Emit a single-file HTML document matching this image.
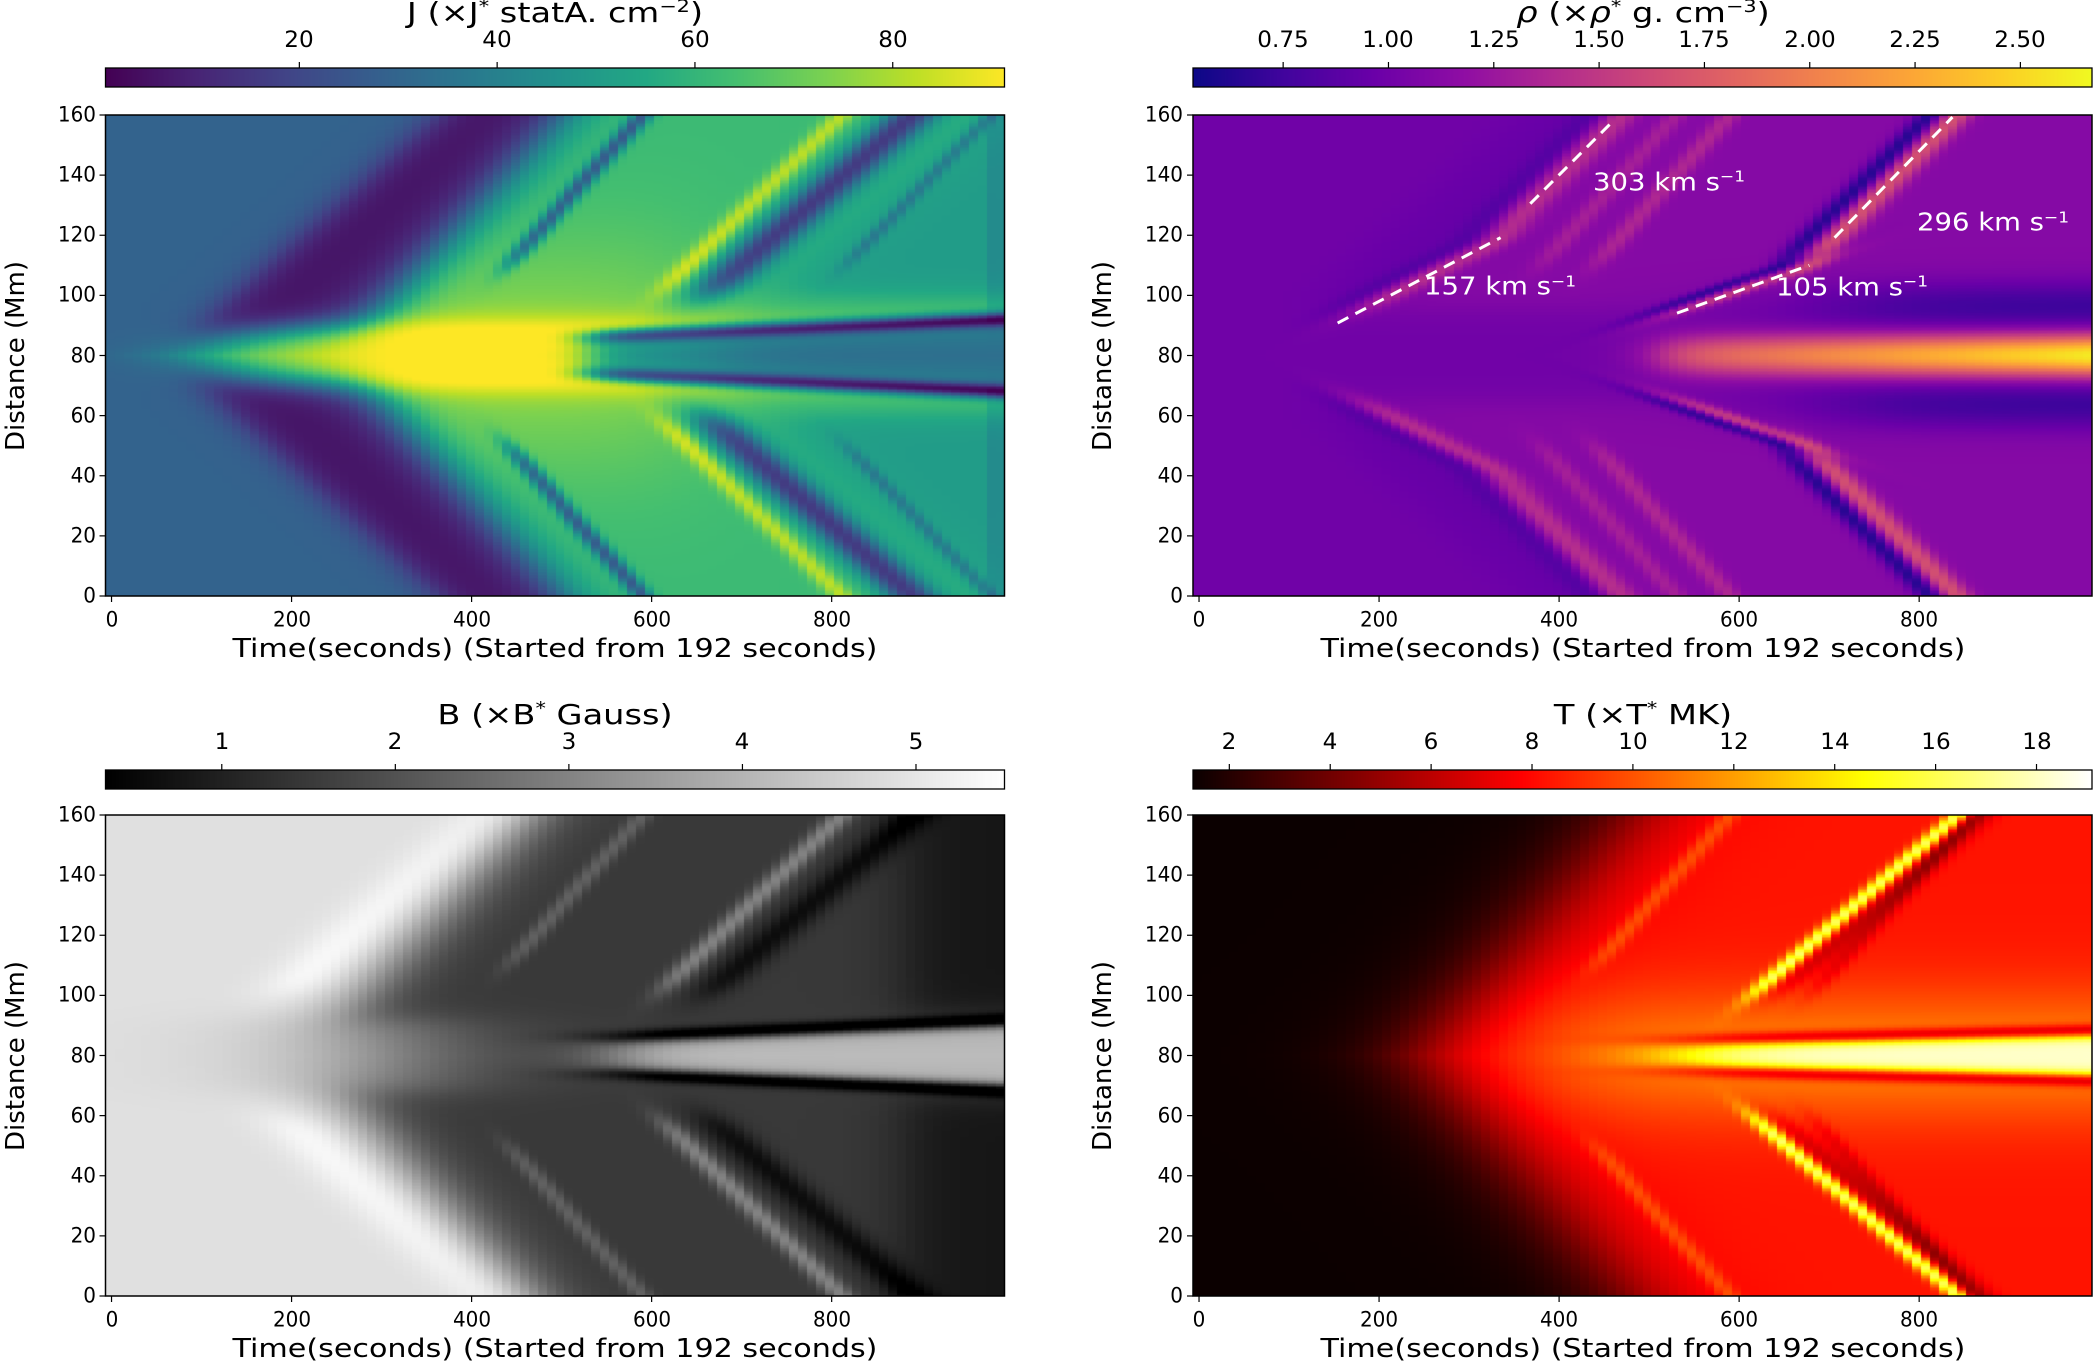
<!DOCTYPE html>
<html><head><meta charset="utf-8">
<style>
body{margin:0;background:#fff;width:2095px;height:1363px;position:relative;overflow:hidden;font-family:"DejaVu Sans","Liberation Sans",sans-serif;color:#000}
.t{position:absolute;white-space:nowrap;line-height:1}
canvas{position:absolute}
sup{font-size:62%;vertical-align:0;position:relative;top:-0.55em}
</style></head>
<body>
<div id="root"></div>
<script>
// ---------- shared axis data ----------
const timeRange=[-6.7,992];
const distRange=[0,160];
const xTicks=[0,200,400,600,800];
const yTicks=[0,20,40,60,80,100,120,140,160];
const xLabel="Time(seconds) (Started from 192 seconds)";
const yLabel="Distance (Mm)";

// ---------- J panel (viridis) ----------
const jRange=[0.4,91.3];
const jCbTicks=[20,40,60,80];
const jBase=[29];
const jSteps=[[60,3.77,15,-24,8,200],[253,3.1,20,57,8,200],[100,8,35,50,-10,10],[640,4,30,-12,20,200]];
const jRidges=[[350,3,12,-35,30,200],[539,3.4,15,20,22,200],[585,3.8,30,-45,20,200],[982,0,4,-30,14,200],[720,3.2,10,-15,30,200]];
const jGlow=[14,40,230,4,660];
const jSplit=[530,6,0.013,-60,2.5,-45];

// ---------- rho panel (plasma) ----------
const rhoRange=[0.536,2.67];
const rhoCbTicks=[0.75,1.00,1.25,1.50,1.75,2.00,2.25,2.50];
const rhoBase=[1.0];
const rhoSteps=[[60,3.77,20,-0.06,15,200],[85,6.37,20,0.18,15,38],[199,3.35,20,0.18,38,200]];
const rhoRidges=[[85,6.37,22,0.4,15,38],[199,3.35,22,0.4,38,200],[55,6.37,20,-0.15,15,38],[169,3.35,20,-0.15,38,200],
 [401,9.25,18,0.5,14,30],[578,3.3,18,0.55,30,200],[371,9.25,15,-0.45,14,30],[548,3.3,15,-0.5,30,200],[350,3,14,0.25,30,200],[290,3,14,0.2,30,200]];
const rhoCore=[510,0.7,1.6,7];
const rhoHalo=[-0.35,17,8,700,60];
const rhoLines=[[154,90.8,335,119.2],[368,130.5,457,157.1],[531,94.1,678,110],[706,119.2,837,159.3]];
const rhoLabels=[[250,103,"157"],[438,137.8,"303"],[641,102.8,"105"],[798,124.3,"296"]];

// ---------- B panel (gray) ----------
const bRange=[0.33,5.51];
const bCbTicks=[1,2,3,4,5];
const bBase=[4.88];
const bSteps=[[220,3.1,25,-3.4,12,200],[300,0,70,-3.4,-10,12],[880,0,20,-0.7,14,200]];
const bRidges=[[120,3.77,45,0.6,20,200],[350,3,12,0.8,30,200],[539,3.4,15,1.5,22,200],[585,3.8,25,-0.9,20,200]];
const bSplit=[560,6,0.013,-2.0,2.2,2.6];

// ---------- T panel (hot) ----------
const tRange=[1.28,19.1];
const tCbTicks=[2,4,6,8,10,12,14,16,18];
const tBase=[1.3];
const tSteps=[[250,2.9,40,7,-10,200]];
const tRidges=[[539,3.8,12,8,20,200],[565,3.8,18,-2,20,200],[350,3,12,2,30,200],[620,3,12,-1.5,20,200]];
const tGlow=[3,22,380,60];
const tSplit=[540,5,0.007,-5,2.2,7];

// ---------- helpers ----------
function sig(x,w){return 1/(1+Math.exp(-x/w));}
function gauss(x,w){return Math.exp(-(x*x)/(w*w));}
function win(d,a,b){return sig(d-a,2.5)*sig(b-d,2.5);}
function applyFeatures(v,t,d,steps,ridges){
  for(const s of steps) v+=s[3]*sig(t-(s[0]+s[1]*d),s[2])*win(d,s[4],s[5]);
  for(const r of ridges) v+=r[3]*gauss(t-(r[0]+r[1]*d),r[2])*win(d,r[4],r[5]);
  return v;
}
function split(v,t,d,sp,tw){
  const line=sp[1]+sp[2]*Math.max(0,t-sp[0]);
  const on=sig(t-sp[0],tw);
  v+=sp[3]*gauss(d-line,sp[4])*on;
  v+=sp[5]*sig(line-1.5-d,1.2)*on;
  return v;
}
const fields={
 J:(t,d)=>{let v=applyFeatures(jBase[0],t,d,jSteps,jRidges);
   v+=jGlow[0]*gauss(d,jGlow[1])*sig(t-(jGlow[2]+jGlow[3]*d),30)*sig(jGlow[4]-t,40);
   return split(v,t,d,jSplit,15);},
 rho:(t,d)=>{let v=applyFeatures(rhoBase[0],t,d,rhoSteps,rhoRidges);
   const a=rhoCore[1]+(rhoCore[2]-rhoCore[1])*Math.max(0,(t-rhoCore[0])/(992-rhoCore[0]));
   v+=a*sig(t-rhoCore[0],20)*gauss(d,rhoCore[3]);
   v+=rhoHalo[0]*gauss(d-rhoHalo[1],rhoHalo[2])*sig(t-rhoHalo[3],rhoHalo[4]);
   return v;},
 B:(t,d)=>{let v=applyFeatures(bBase[0],t,d,bSteps,bRidges);return split(v,t,d,bSplit,30);},
 T:(t,d)=>{let v=applyFeatures(tBase[0],t,d,tSteps,tRidges);
   v+=tGlow[0]*gauss(d,tGlow[1])*sig(t-tGlow[2],tGlow[3]);
   return split(v,t,d,tSplit,40);}
};
// colormaps
function hex(h){return [parseInt(h.substr(1,2),16),parseInt(h.substr(3,2),16),parseInt(h.substr(5,2),16)];}
function lut(list){const c=list.map(hex);return x=>{x=Math.max(0,Math.min(1,x));const p=x*(c.length-1);const i=Math.min(c.length-2,Math.floor(p));const f=p-i;return [0,1,2].map(k=>c[i][k]+(c[i+1][k]-c[i][k])*f);};}
const cmaps={
 viridis:lut(["#440154","#482475","#414487","#355f8d","#2a788e","#21918c","#22a884","#44bf70","#7ad151","#bddf26","#fde725"]),
 plasma:lut(["#0d0887","#41049d","#6a00a8","#8f0da4","#b12a90","#cc4778","#e16462","#f2844b","#fca636","#fcce25","#f0f921"]),
 gray:x=>{x=Math.max(0,Math.min(1,x));return [x*255,x*255,x*255];},
 hot:x=>{x=Math.max(0,Math.min(1,x));return [255*Math.min(1,0.0416+x/0.365*0.9584),255*Math.max(0,Math.min(1,(x-0.365)/0.381)),255*Math.max(0,Math.min(1,(x-0.746)/0.254))];}
};

const panels=[
 {key:"J",x:105.5,y:115,cbY:68,cmap:"viridis",range:jRange,ticks:jCbTicks,fmt:v=>String(v),title:'J (×J<sup>*</sup> statA. cm<sup>−2</sup>)'},
 {key:"rho",x:1193,y:115,cbY:68,cmap:"plasma",range:rhoRange,ticks:rhoCbTicks,fmt:v=>v.toFixed(2),title:'<i>ρ</i> (×<i>ρ</i><sup>*</sup> g. cm<sup>−3</sup>)'},
 {key:"B",x:105.5,y:815,cbY:770,cmap:"gray",range:bRange,ticks:bCbTicks,fmt:v=>String(v),title:'B (×B<sup>*</sup> Gauss)'},
 {key:"T",x:1193,y:815,cbY:770,cmap:"hot",range:tRange,ticks:tCbTicks,fmt:v=>String(v),title:'T (×T<sup>*</sup> MK)'}
];
const W=899,H=481,CBH=19;
const root=document.getElementById('root');
const NS="http://www.w3.org/2000/svg";
const svg=document.createElementNS(NS,'svg');
svg.setAttribute('width','2095');svg.setAttribute('height','1363');
svg.setAttribute('style','position:absolute;left:0;top:0');



function addText(html,x,y,anchor,size,name,sx){
  const d=document.createElement('div');d.className='t';d.innerHTML=html;
  d.style.fontSize=size+'px';d.style.left=x+'px';d.style.top=y+'px';
  const tx=anchor==='middle'?'-50%':anchor==='end'?'-100%':'0';
  const org=anchor==='middle'?'center':anchor==='end'?'right':'left';
  d.style.transformOrigin=org+' center';
  d.style.transform='translate('+tx+',-50%) scaleX('+(sx||1)+')';
  
  
  root.appendChild(d);return d;
}
function line(x1,y1,x2,y2,col,wd,dash,name){
  const l=document.createElementNS(NS,'line');
  l.setAttribute('x1',x1);l.setAttribute('y1',y1);l.setAttribute('x2',x2);l.setAttribute('y2',y2);
  l.setAttribute('stroke',col);l.setAttribute('stroke-width',wd);
  if(dash)l.setAttribute('stroke-dasharray',dash);
  
  
  svg.appendChild(l);return l;
}

panels.forEach(p=>{
  const xS=t=>p.x+(t-timeRange[0])/(timeRange[1]-timeRange[0])*W;
  const yS=v=>p.y+H-(v-distRange[0])/(distRange[1]-distRange[0])*H;
  const cS=v=>p.x+(v-p.range[0])/(p.range[1]-p.range[0])*W;
  const cm=cmaps[p.cmap];
  const cols=100,rows=320;
  const small=document.createElement('canvas');small.width=cols;small.height=rows;
  const sc=small.getContext('2d');const img=sc.createImageData(cols,rows);
  const dt=(timeRange[1]-timeRange[0])/cols;
  for(let i=0;i<cols;i++){const t=timeRange[0]+(i+0.5)*dt;
    for(let j=0;j<rows;j++){const y=160-(j+0.5)*0.5;const d=Math.abs(y-80);
      const v=fields[p.key](t,d);const c=cm((v-p.range[0])/(p.range[1]-p.range[0]));
      const o=(j*cols+i)*4;img.data[o]=c[0];img.data[o+1]=c[1];img.data[o+2]=c[2];img.data[o+3]=255;}}
  sc.putImageData(img,0,0);
  const cv=document.createElement('canvas');cv.width=W;cv.height=H;
  cv.style.left=p.x+'px';cv.style.top=p.y+'px';
  
  
  const cx=cv.getContext('2d');cx.imageSmoothingEnabled=false;cx.drawImage(small,0,0,W,H);
  root.appendChild(cv);
  const cb=document.createElement('canvas');cb.width=W;cb.height=CBH;
  cb.style.left=p.x+'px';cb.style.top=p.cbY+'px';
  
  
  const bx=cb.getContext('2d');
  for(let i=0;i<W;i++){const c=cm(i/(W-1));bx.fillStyle='rgb('+c.map(Math.round).join(',')+')';bx.fillRect(i,0,1,CBH);}
  root.appendChild(cb);
  const r=document.createElementNS(NS,'rect');
  r.setAttribute('x',p.x);r.setAttribute('y',p.cbY);r.setAttribute('width',W);r.setAttribute('height',CBH);
  r.setAttribute('fill','none');r.setAttribute('stroke','#000');r.setAttribute('stroke-width','1.3');
  
  
  svg.appendChild(r);
  p.ticks.forEach(v=>{const x=cS(v);
    line(x,p.cbY,x,p.cbY-6,'#000',1.2,null,'colorbar-tick');
    addText(p.fmt(v),x,p.cbY-27,'middle',22,'colorbar-tick-label',1.05);});
  addText(p.title,p.x+W/2,p.cbY-55,'middle',28,p.key+'-colorbar-title',1.2);
  const fr=document.createElementNS(NS,'rect');
  fr.setAttribute('x',p.x);fr.setAttribute('y',p.y);fr.setAttribute('width',W);fr.setAttribute('height',H);
  fr.setAttribute('fill','none');fr.setAttribute('stroke','#000');fr.setAttribute('stroke-width','1.5');
  
  
  svg.appendChild(fr);
  xTicks.forEach(v=>{const x=xS(v);line(x,p.y+H,x,p.y+H+6,'#000',1.2,null,'x-tick');
    addText(String(v),x,p.y+H+24,'middle',21,'x-tick-label',0.95);});
  yTicks.forEach(v=>{const y=yS(v);line(p.x,y,p.x-6,y,'#000',1.2,null,'y-tick');
    addText(String(v),p.x-10,y,'end',21,'y-tick-label',0.95);});
  addText(xLabel,p.x+W/2,p.y+H+53,'middle',26,'x-axis-title',1.16);
  const yl=addText(yLabel,p.x-90,p.y+H/2,'middle',26,'y-axis-title');
  yl.style.transformOrigin='center center';
  yl.style.transform='translate(-50%,-50%) rotate(-90deg)';
  if(p.key==='rho'){
    rhoLines.forEach(L=>line(xS(L[0]),yS(L[1]),xS(L[2]),yS(L[3]),'#fff',3,'12,8','velocity-fit-line'));
    rhoLabels.forEach(L=>{addText(L[2]+' km s<sup>−1</sup>',xS(L[0]),yS(L[1]),'start',25,'velocity-label',1.1).style.color='#fff';});
  }
});
root.appendChild(svg);
</script>
</body></html>
